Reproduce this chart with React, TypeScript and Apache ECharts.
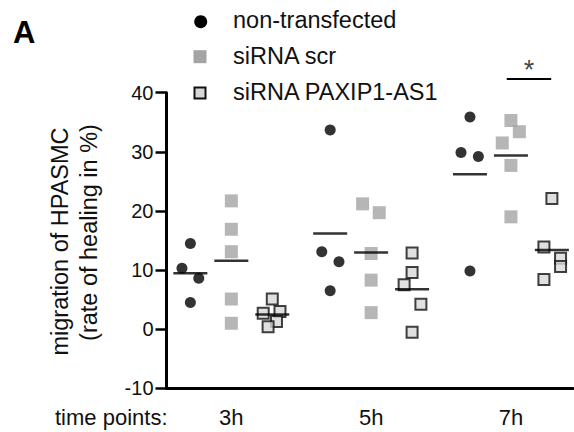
import React, { useEffect, useRef } from 'react';
import * as echarts from 'echarts';

const timePoints = ['3h', '5h', '7h'];
const groupNames = ['non-transfected', 'siRNA scr', 'siRNA PAXIP1-AS1'];

// values per time point (3h, 5h, 7h)
const nonTransfected = [
  [14.5, 10.3, 8.6, 4.5],
  [33.7, 13.1, 11.4, 6.5],
  [35.9, 29.9, 29.2, 9.85],
];
const siRnaScr = [
  [21.7, 16.9, 13.1, 5.1, 1.0],
  [21.2, 19.7, 12.8, 8.3, 2.8],
  [35.3, 33.4, 31.5, 27.7, 19.0],
];
const siRnaPaxip = [
  [5.1, 2.7, 3.0, 1.3, 0.4],
  [12.9, 9.6, 7.5, 4.2, -0.5],
  [22.1, 13.9, 12.0, 10.6, 8.4],
];

// horizontal spread of points within a column (x units)
const nonTransfectedJitter = [
  [0, -0.06, 0.06, 0],
  [0, -0.06, 0.063, 0],
  [0, -0.064, 0.06, 0],
];
const siRnaScrJitter = [
  [0, 0, 0, 0, 0],
  [-0.061, 0.058, 0, 0, 0],
  [0, 0.06, -0.062, 0, 0],
];
const siRnaPaxipJitter = [
  [0, -0.065, 0.055, 0.03, -0.03],
  [0, 0, -0.057, 0.063, 0],
  [0, -0.057, 0.062, 0.062, -0.057],
];

const yMin = -10;
const yMax = 40;
const yInterval = 10;

// significance: 7h, siRNA scr vs siRNA PAXIP1-AS1
const sigGroup = 2;
const sigFrom = 1;
const sigTo = 2;
const sigLabel = '*';
const sigLevel = 42.3;

const FONT = '"Liberation Sans", Arial, sans-serif';
const seriesOffset = [-0.293, 0, 0.293];

const mean = (a: number[]) => a.reduce((s, v) => s + v, 0) / a.length;

export default function App() {
  const ref = useRef<HTMLDivElement>(null);
  useEffect(() => {
    document.body.style.margin = '0';
    const chart = echarts.init(ref.current!, null, { renderer: 'svg' });
    const allValues = [nonTransfected, siRnaScr, siRnaPaxip];
    const allJitter = [nonTransfectedJitter, siRnaScrJitter, siRnaPaxipJitter];

    const pts = (s: number) =>
      allValues[s].flatMap((vals, g) =>
        vals.map((v, i) => [g + seriesOffset[s] + allJitter[s][g][i], v])
      );
    const means = allValues.flatMap((vals, s) =>
      vals.map((v, g) => [g + seriesOffset[s], mean(v)])
    );

    const sigX1 = sigGroup + seriesOffset[sigFrom] - 0.03;
    const sigX2 = sigGroup + seriesOffset[sigTo] - 0.005;

    const option: any = {
      animation: false,
      grid: { left: 166.5, right: 1, top: 92.7, bottom: 43.7 },
      xAxis: {
        type: 'value',
        min: -0.4637,
        max: 2.444,
        axisLine: { onZero: false, lineStyle: { color: '#000', width: 3 } },
        axisTick: { show: false },
        splitLine: { show: false },
        axisLabel: {
          customValues: [0, 1, 2],
          formatter: (v: number) => timePoints[Math.round(v)] ?? '',
          fontFamily: FONT,
          fontSize: 22,
          lineHeight: 22,
          color: '#111',
          margin: 18,
        },
      },
      yAxis: {
        type: 'value',
        min: yMin,
        max: yMax,
        interval: yInterval,
        axisLine: { show: true, onZero: false, lineStyle: { color: '#000', width: 3 } },
        axisTick: { show: true, length: 11, lineStyle: { color: '#000', width: 2.5 } },
        splitLine: { show: false },
        axisLabel: { fontFamily: FONT, fontSize: 20, color: '#111', margin: 13 },
      },
      series: [
        {
          name: groupNames[0],
          type: 'scatter',
          data: pts(0),
          symbol: 'circle',
          symbolSize: 11,
          itemStyle: { color: '#000' },
          z: 2,
        },
        {
          name: groupNames[1],
          type: 'scatter',
          data: pts(1),
          symbol: 'rect',
          symbolSize: 13,
          itemStyle: { color: '#a4a4a4' },
          z: 2,
        },
        {
          name: groupNames[2],
          type: 'scatter',
          data: pts(2),
          symbol: 'rect',
          symbolSize: 11,
          itemStyle: { color: '#d8d8d8', borderColor: '#111', borderWidth: 2 },
          z: 2,
        },
        {
          name: 'mean',
          type: 'scatter',
          data: means,
          symbol: 'rect',
          symbolSize: [34, 2.5],
          itemStyle: { color: '#000' },
          z: 5,
        },
        {
          name: 'sig',
          type: 'line',
          data: [
            [sigX1, sigLevel],
            [sigX2, sigLevel],
          ],
          showSymbol: false,
          symbol: 'none',
          clip: false,
          lineStyle: { color: '#000', width: 2 },
          silent: true,
        },
        {
          name: 'sigLabel',
          type: 'scatter',
          data: [[(sigX1 + sigX2) / 2, sigLevel]],
          symbolSize: 0,
          clip: false,
          silent: true,
          label: {
            show: true,
            formatter: sigLabel,
            position: 'top',
            distance: -4,
            fontFamily: FONT,
            fontSize: 27,
            color: '#111',
          },
        },
      ],
      graphic: [
        {
          type: 'text',
          left: 13,
          top: 17,
          style: { text: 'A', font: `bold 31px ${FONT}`, fill: '#000' },
        },
        { type: 'circle', shape: { cx: 200.7, cy: 21.7, r: 6.5 }, style: { fill: '#000' } },
        { type: 'rect', shape: { x: 193.5, y: 50.2, width: 13, height: 13 }, style: { fill: '#a4a4a4' } },
        {
          type: 'rect',
          shape: { x: 194.5, y: 87.5, width: 11, height: 11 },
          style: { fill: '#d8d8d8', stroke: '#111', lineWidth: 2 },
        },
        ...groupNames.map((n, i) => ({
          type: 'text',
          x: 233,
          y: [19.5, 55.5, 91.5][i],
          style: { text: n, font: `23.5px ${FONT}`, fill: '#111', verticalAlign: 'middle' },
        })),
        {
          type: 'text',
          x: 60,
          y: 241.5,
          rotation: Math.PI / 2,
          style: {
            text: 'migration of HPASMC',
            font: `23.5px ${FONT}`,
            fill: '#111',
            align: 'center',
            verticalAlign: 'middle',
          },
        },
        {
          type: 'text',
          x: 89,
          y: 232.5,
          rotation: Math.PI / 2,
          style: {
            text: '(rate of healing in %)',
            font: `23.5px ${FONT}`,
            fill: '#111',
            align: 'center',
            verticalAlign: 'middle',
          },
        },
        {
          type: 'text',
          x: 55,
          y: 417.5,
          style: { text: 'time points:', font: `22px ${FONT}`, fill: '#111', verticalAlign: 'middle' },
        },
      ],
    };
    chart.setOption(option);
    return () => chart.dispose();
  }, []);
  return <div ref={ref} style={{ width: 574, height: 432 }} />;
}
